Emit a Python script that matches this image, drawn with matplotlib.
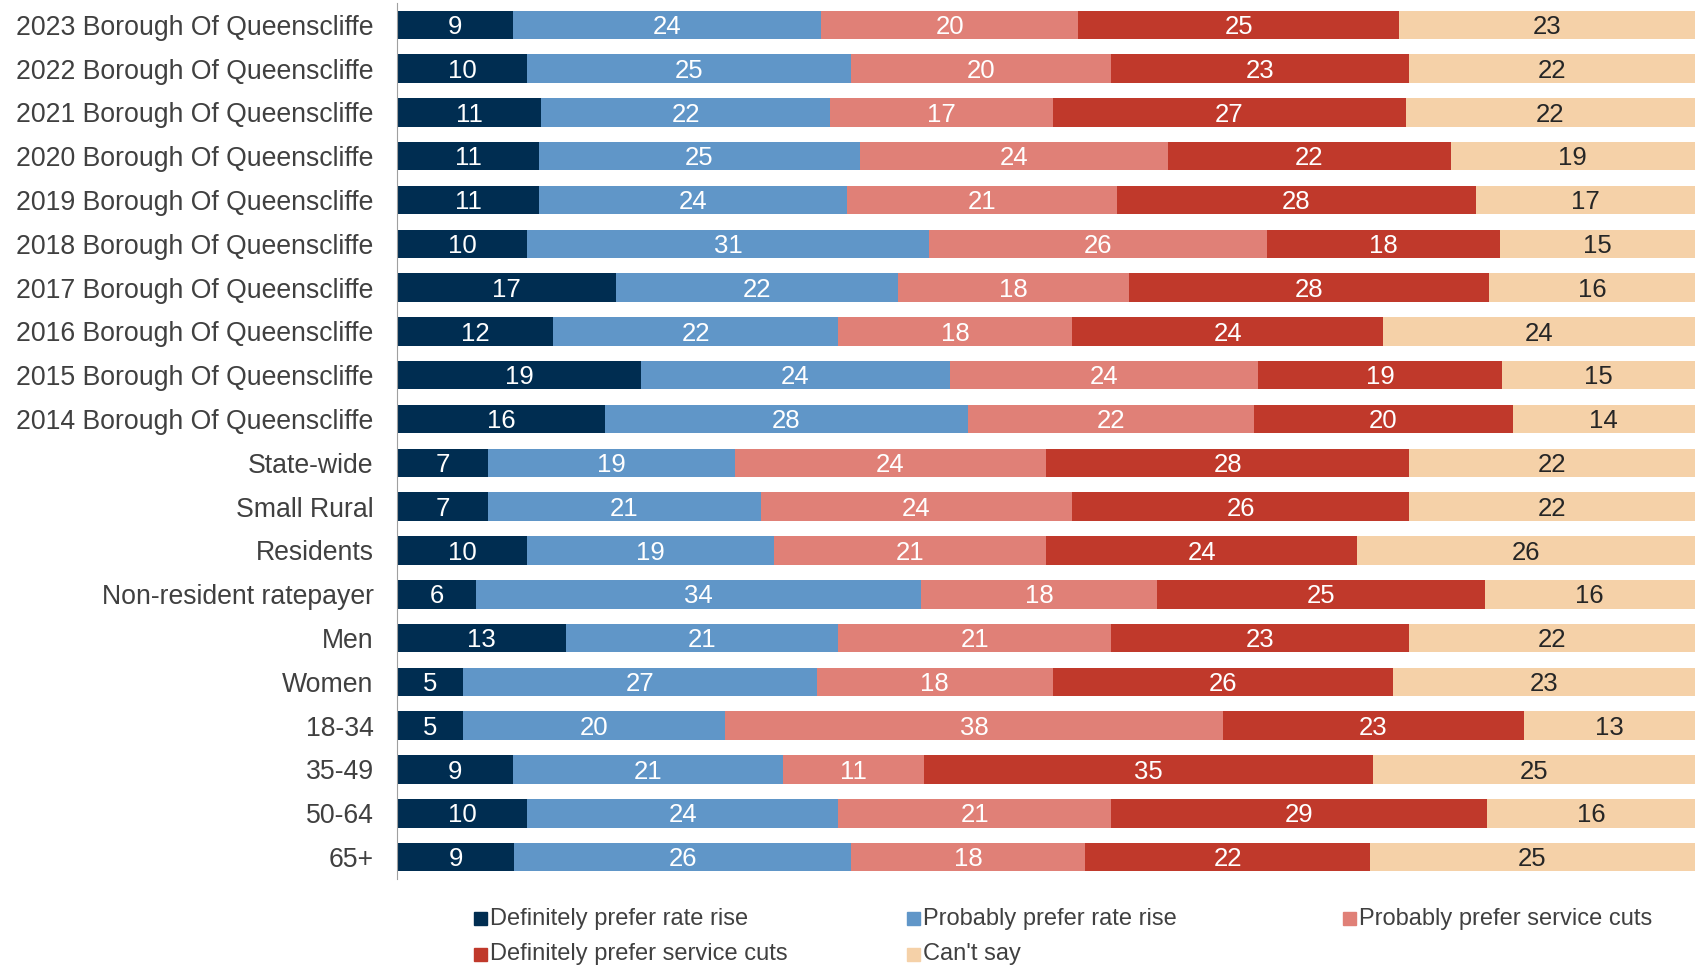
import numpy as np
import matplotlib.pyplot as plt
from matplotlib.patches import Rectangle

plt.rcParams['font.family'] = ['Liberation Sans', 'DejaVu Sans']

categories = ["2023 Borough Of Queenscliffe", "2022 Borough Of Queenscliffe",
              "2021 Borough Of Queenscliffe", "2020 Borough Of Queenscliffe",
              "2019 Borough Of Queenscliffe", "2018 Borough Of Queenscliffe",
              "2017 Borough Of Queenscliffe", "2016 Borough Of Queenscliffe",
              "2015 Borough Of Queenscliffe", "2014 Borough Of Queenscliffe",
              "State-wide", "Small Rural", "Residents", "Non-resident ratepayer",
              "Men", "Women", "18-34", "35-49", "50-64", "65+"]

series = ["Definitely prefer rate rise", "Probably prefer rate rise",
          "Probably prefer service cuts", "Definitely prefer service cuts", "Can't say"]

def_rise = [9, 10, 11, 11, 11, 10, 17, 12, 19, 16, 7, 7, 10, 6, 13, 5, 5, 9, 10, 9]
prob_rise = [24, 25, 22, 25, 24, 31, 22, 22, 24, 28, 19, 21, 19, 34, 21, 27, 20, 21, 24, 26]
prob_cuts = [20, 20, 17, 24, 21, 26, 18, 18, 24, 22, 24, 24, 21, 18, 21, 18, 38, 11, 21, 18]
def_cuts = [25, 23, 27, 22, 28, 18, 28, 24, 19, 20, 28, 26, 24, 25, 23, 26, 23, 35, 29, 22]
cant_say = [23, 22, 22, 19, 17, 15, 16, 24, 15, 14, 22, 22, 26, 16, 22, 23, 13, 25, 16, 25]

colors = ["#002D51", "#6096C8", "#E08077", "#C0392B", "#F5D1A8"]
text_colors = ["white", "white", "white", "white", "#262626"]

data = np.array([def_rise, prob_rise, prob_cuts, def_cuts, cant_say], dtype=float)
# rows are rounded percentages; scale each row to 100 for drawing
widths = data / data.sum(axis=0) * 100

fig = plt.figure(figsize=(16.98, 9.67), dpi=100)
ax = fig.add_axes([0.234, 0.091, 0.764, 0.906])

y = np.arange(len(categories))
left = np.zeros(len(categories))
for i in range(len(series)):
    ax.barh(y, widths[i], left=left, height=0.65, color=colors[i], edgecolor="none")
    for j in range(len(categories)):
        ax.text(left[j] + widths[i][j] / 2, y[j] + 0.05, f"{int(data[i][j])}",
                ha="center", va="center", fontsize=18.5, color=text_colors[i])
    left += widths[i]

ax.set_xlim(0, 100)
ax.set_ylim(len(categories) - 0.5, -0.5)
ax.set_yticks(y)
ax.set_yticklabels(categories, fontsize=19.2, color="#404040")
ax.tick_params(axis="y", length=0, pad=17)
ax.set_xticks([])
for s in ["top", "right", "bottom"]:
    ax.spines[s].set_visible(False)
ax.spines["left"].set_color("#A0A0A0")

# legend laid out in rows like the original
leg_x = [0.279, 0.534, 0.791, 0.279, 0.534]
leg_y = [0.050, 0.050, 0.050, 0.013, 0.013]
for i in range(len(series)):
    fig.patches.append(Rectangle((leg_x[i], leg_y[i] - 0.0065), 0.0077, 0.0135,
                                 transform=fig.transFigure, color=colors[i]))
    fig.text(leg_x[i] + 0.0095, leg_y[i], series[i], fontsize=17, color="#404040",
             va="center", ha="left")

fig.savefig("out.png", dpi=100)
